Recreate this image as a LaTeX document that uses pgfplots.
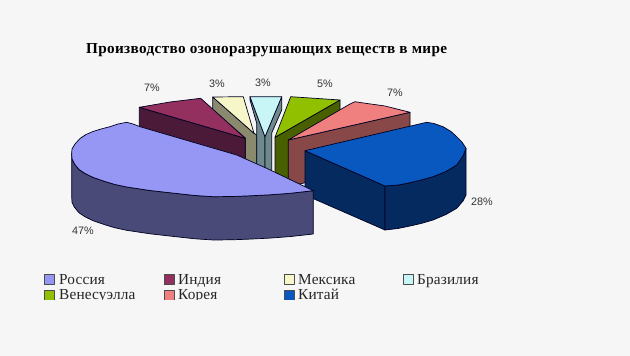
\documentclass[border=0pt]{standalone}
\usepackage{pgfplots}
\pgfplotsset{compat=1.18}
\usepackage{fontspec}
\setmainfont{Liberation Serif}
\newfontfamily\lab{Liberation Sans}
\newfontfamily\ttl[LetterSpace=2.3]{Liberation Serif}
\newfontfamily\lgd[LetterSpace=1]{Liberation Serif}
\definecolor{bg}{HTML}{F6F6F6}
\definecolor{edge}{HTML}{000020}
\definecolor{ru}{HTML}{9696F4}\definecolor{ruS}{HTML}{4A4A78}
\definecolor{in}{HTML}{933060}\definecolor{inS}{HTML}{4A1A38}
\definecolor{me}{HTML}{F6F6C8}\definecolor{meS}{HTML}{8A8A6E}
\definecolor{br}{HTML}{C8F6F6}\definecolor{brS}{HTML}{6E8A8A}
\definecolor{ve}{HTML}{90C000}\definecolor{veS}{HTML}{486000}
\definecolor{ko}{HTML}{F08080}\definecolor{koS}{HTML}{884848}
\definecolor{ch}{HTML}{0858C0}\definecolor{chS}{HTML}{052A60}
\begin{document}
\begin{tikzpicture}
\begin{axis}[
  scale only axis, width=630pt, height=356pt,
  xmin=0, xmax=630, ymin=0, ymax=356, y dir=reverse,
  axis lines=none, clip=true,
  every axis plot/.append style={line width=0.7pt, draw=edge, line join=round},
  /tikz/lbl/.style={font=\lab\fontsize{10.8}{12}\selectfont, text=black!80},
  /tikz/leg/.style={font=\lgd\fontsize{15.3}{16}\selectfont, text=black!85, anchor=base west, inner sep=0pt},
]
% background
\addplot[fill=bg, draw=none] coordinates {(0,0)(630,0)(630,356)(0,356)} -- cycle;

% Mexico
\addplot[fill=meS] coordinates {(212.7,97)(212.7,110)(245.3,138)(245.3,160)(256.7,166)(256.7,135)(254,133.3)} -- cycle;
\addplot[fill=me] coordinates {(212.7,97)(243.3,96.7)(254,133.3)} -- cycle;
% Brazil
\addplot[fill=brS] coordinates {(250,96.7)(250,100)(256.7,123.3)(256.7,166)(265,169)(265,136.7)} -- cycle;
\addplot[fill=brS] coordinates {(281.7,96.7)(281.7,110)(271.7,133)(271.7,172)(265,169)(265,136.7)} -- cycle;
\addplot[fill=br] coordinates {(250,96.7)(281.7,96.7)(265,136.7)} -- cycle;
% Venezuela
\addplot[fill=veS] coordinates {(275,137.3)(340,100)(340,143)(287,179)(275,176)} -- cycle;
\addplot[fill=ve] coordinates {(275,137.3)(290.7,96.7)(340,100)} -- cycle;
% Korea
\addplot[fill=koS] coordinates {(288.3,140)(410,112.3)(410,155)(300,184)(288.3,182)} -- cycle;
\addplot[fill=ko] coordinates {(288.3,140)(350,104)(355,101.7)(360,102.5)(385,106)(410,112.3)} -- cycle;
% India
\addplot[fill=inS] coordinates {(139.3,107.3)(245.3,138.3)(245.3,160)(139.3,135)} -- cycle;
\addplot[fill=in] coordinates {(139.3,107.3)(170,102)(200.7,98.3)(245.3,138.3)} -- cycle;
% China
\addplot[fill=chS] coordinates {(305,150.7)(385,186)(385,230)(305,195)} -- cycle;
\addplot[fill=chS] coordinates {(385,186)(398,185)(410,182.7)(421,180)(433,176.7)(446,171.5)(456.7,165)(463,156)(466,148.3)(466,195)(463,201)(456.7,208.3)(446,214.5)(433,220)(421,223.5)(410,226)(398,228.5)(385,230)} -- cycle;
\addplot[fill=ch] coordinates {(305,150.7)(426.7,122.3)(434,123.5)(443,126.7)(451,131.5)(456.7,136.7)(462,142)(466,148.3)(463,156)(456.7,165)(446,171.5)(433,176.7)(421,180)(410,182.7)(398,185)(385,186)} -- cycle;
% Russia
\addplot[fill=ruS] coordinates {(71.7,153)(72,159)(74.5,164)(79,169.5)(85,173.5)(93.3,177.5)(105,181.5)(115,184.5)(126.7,187)(150,190.5)(176.7,193.5)(195,195.5)(213.3,196.7)(232,196.5)(250,195.8)(270,194.8)(290,193.3)(313.3,190.7)(313.3,234)(290,236.6)(270,238.1)(250,239.1)(232,239.8)(213.3,240)(195,238.8)(176.7,236.8)(150,233.8)(126.7,230.3)(115,227.8)(105,224.8)(93.3,220.8)(85,216.8)(79,212.8)(74.5,207.3)(72,202.3)(71.7,196.3)} -- cycle;
\addplot[fill=ru] coordinates {(126.7,122.3)(133,124)(140,126.7)(236.7,155)(266.7,168.3)(313.3,190.7)(290,193.3)(270,194.8)(250,195.8)(232,196.5)(213.3,196.7)(195,195.5)(176.7,193.5)(150,190.5)(126.7,187)(115,184.5)(105,181.5)(93.3,177.5)(85,173.5)(79,169.5)(74.5,164)(72,159)(71.7,153)(72,149)(75,144)(80,138.5)(86,134.5)(93,131.5)(101,129)(110,126.7)(118,124)} -- cycle;

% legend markers
\addplot[only marks, mark=square*, mark size=5pt, mark options={fill=ru, draw=black!70, line width=0.5pt}] coordinates {(49,279.5)};
\addplot[only marks, mark=square*, mark size=5pt, mark options={fill=in, draw=black!70, line width=0.5pt}] coordinates {(169,279.5)};
\addplot[only marks, mark=square*, mark size=5pt, mark options={fill=me, draw=black!70, line width=0.5pt}] coordinates {(289,279.5)};
\addplot[only marks, mark=square*, mark size=5pt, mark options={fill=br, draw=black!70, line width=0.5pt}] coordinates {(408,279.5)};
\addplot[only marks, mark=square*, mark size=5pt, mark options={fill=ve, draw=black!70, line width=0.5pt}] coordinates {(49,295)};
\addplot[only marks, mark=square*, mark size=5pt, mark options={fill=ko, draw=black!70, line width=0.5pt}] coordinates {(169,295)};
\addplot[only marks, mark=square*, mark size=5pt, mark options={fill=ch, draw=black!70, line width=0.5pt}] coordinates {(289,295)};

% text
\node[anchor=base west, inner sep=0pt, font=\ttl\bfseries\fontsize{15.2}{16}\selectfont] at (axis cs:86,53) {Производство озоноразрушающих веществ в мире};
\node[lbl] at (axis cs:152,88) {7\%};
\node[lbl] at (axis cs:217,84) {3\%};
\node[lbl] at (axis cs:263,83) {3\%};
\node[lbl] at (axis cs:325,84) {5\%};
\node[lbl] at (axis cs:395,93) {7\%};
\node[lbl] at (axis cs:482,202) {28\%};
\node[lbl] at (axis cs:83,231) {47\%};
\node[leg] at (axis cs:59,284) {Россия};
\node[leg] at (axis cs:178,284) {Индия};
\node[leg] at (axis cs:298,284) {Мексика};
\node[leg] at (axis cs:417,284) {Бразилия};
\node[leg] at (axis cs:59,299) {Венесуэлла};
\node[leg] at (axis cs:178,299) {Корея};
\node[leg] at (axis cs:298,299) {Китай};
\end{axis}
% cover that cuts the lower legend row, as in the reference
\begin{axis}[
  scale only axis, width=630pt, height=356pt,
  xmin=0, xmax=630, ymin=0, ymax=356, y dir=reverse, axis lines=none]
\addplot[fill=bg, draw=none] coordinates {(30,300)(520,300)(520,312)(30,312)} -- cycle;
\end{axis}
\end{tikzpicture}
\end{document}
